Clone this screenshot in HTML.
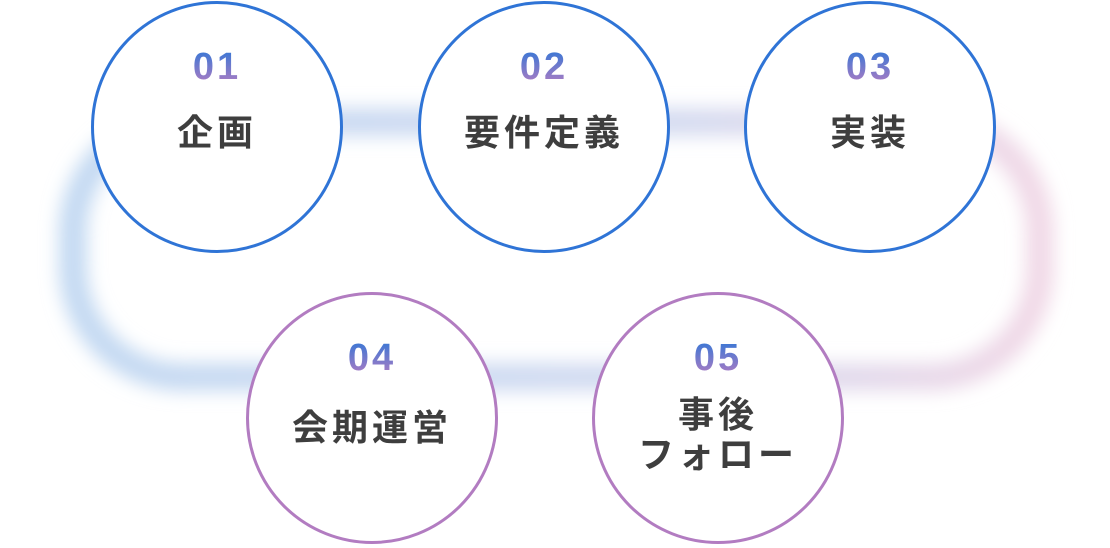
<!DOCTYPE html>
<html><head><meta charset="utf-8"><style>
body{margin:0;width:1110px;height:548px;background:#fff;overflow:hidden;position:relative;font-family:"Liberation Sans","Noto Sans CJK JP",sans-serif}
.c{position:absolute;width:246px;height:246px;border-radius:50%;border:3px solid #2f74d6;background:#fff;text-align:center}
.p{border-color:#b27cc1}
.n{position:absolute;left:0;right:0;top:44px;font-size:38px;font-weight:bold;letter-spacing:3px;background:linear-gradient(#3277d6,#b37cc2);-webkit-background-clip:text;background-clip:text;color:transparent;line-height:1;-webkit-text-stroke:0}
.t{position:absolute;left:0;right:0;top:106px;font-size:36px;font-weight:bold;color:#3e3e3e;letter-spacing:4px;line-height:46px}
</style></head><body>
<svg width="1110" height="548" style="position:absolute;left:0;top:0">
<defs>
<linearGradient id="g" x1="0" x2="1" y1="0" y2="0"><stop offset="0" stop-color="#c3d9f2"/><stop offset="0.6" stop-color="#d3dbf1"/><stop offset="1" stop-color="#f1d9e7"/></linearGradient>
<filter id="b" x="-20%" y="-20%" width="140%" height="140%"><feGaussianBlur stdDeviation="9"/></filter>
</defs>
<rect x="73" y="122" width="967" height="255" rx="110" fill="none" stroke="url(#g)" stroke-width="28" filter="url(#b)"/>
</svg>
<div class="c" style="left:91px;top:1px"><div class="n">01</div><div class="t">企画</div></div>
<div class="c" style="left:418px;top:1px"><div class="n">02</div><div class="t">要件定義</div></div>
<div class="c" style="left:744px;top:1px"><div class="n">03</div><div class="t">実装</div></div>
<div class="c p" style="left:246px;top:292px"><div class="n">04</div><div class="t" style="top:110px">会期運営</div></div>
<div class="c p" style="left:592px;top:292px"><div class="n">05</div><div class="t" style="top:100px;line-height:40px">事後<br>フォロー</div></div>
</body></html>
